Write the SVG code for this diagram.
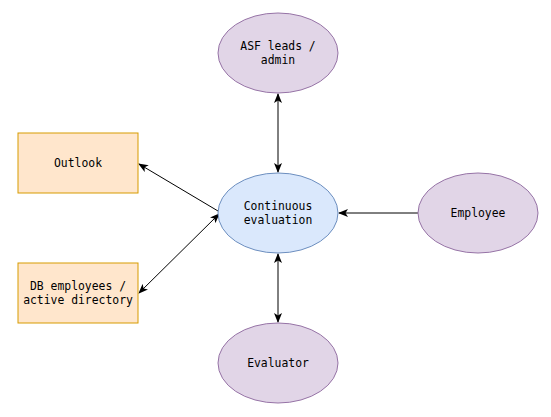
<svg xmlns="http://www.w3.org/2000/svg" width="551" height="417" viewBox="0 0 551 417">
<defs>
<style>
.p{fill:#e1d5e7;stroke:#9673a6;stroke-width:1}
.b{fill:#dae8fc;stroke:#6c8ebf;stroke-width:1}
.o{fill:#ffe6cc;stroke:#d79b00;stroke-width:1}
text{font-family:"DejaVu Sans Mono","Liberation Mono",monospace;font-size:11.4px;fill:#000;text-anchor:middle;dominant-baseline:central}
.c{stroke:#000;stroke-width:1;fill:none}
</style>
<marker id="a" viewBox="0 0 10 8" refX="9" refY="4" markerWidth="10" markerHeight="8" markerUnits="userSpaceOnUse" orient="auto-start-reverse">
<path d="M0,0 L10,4 L0,8 L2.5,4 z" fill="#000"/>
</marker>
</defs>
<rect width="551" height="417" fill="#fff"/>
<g id="connectors">
<line class="c" x1="278" y1="94" x2="278" y2="172" marker-start="url(#a)" marker-end="url(#a)"/>
<line class="c" x1="418" y1="213" x2="339" y2="213" marker-end="url(#a)"/>
<line class="c" x1="278" y1="254" x2="278" y2="322" marker-start="url(#a)" marker-end="url(#a)"/>
<line class="c" x1="218" y1="211" x2="139" y2="164" marker-end="url(#a)"/>
<line class="c" x1="219" y1="214" x2="139" y2="293" marker-start="url(#a)" marker-end="url(#a)"/>
</g>
<g id="asf">
<ellipse class="p" cx="278" cy="53" rx="60" ry="40"/>
<text x="278" y="46">ASF leads /</text>
<text x="278" y="60">admin</text>
</g>
<g id="continuous">
<ellipse class="b" cx="278" cy="213" rx="60" ry="40"/>
<text x="278" y="206">Continuous</text>
<text x="278" y="220">evaluation</text>
</g>
<g id="employee">
<ellipse class="p" cx="478" cy="213" rx="60" ry="40"/>
<text x="478" y="213">Employee</text>
</g>
<g id="evaluator">
<ellipse class="p" cx="278" cy="363" rx="60" ry="40"/>
<text x="278" y="363">Evaluator</text>
</g>
<g id="outlook">
<rect class="o" x="18" y="133" width="120" height="60"/>
<text x="78" y="163">Outlook</text>
</g>
<g id="db">
<rect class="o" x="18" y="263" width="120" height="60"/>
<text x="78" y="286">DB employees /</text>
<text x="78" y="300">active directory</text>
</g>
</svg>
